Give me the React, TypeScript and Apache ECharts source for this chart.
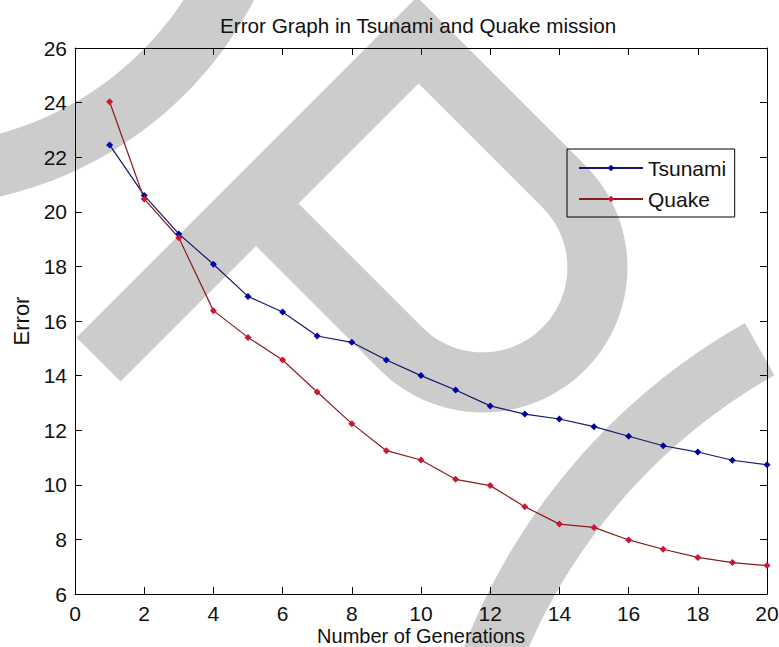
import { useEffect, useRef } from "react";
import * as echarts from "echarts";

// ---- data ----
const generations = [1, 2, 3, 4, 5, 6, 7, 8, 9, 10, 11, 12, 13, 14, 15, 16, 17, 18, 19, 20];
const tsunami = [22.45, 20.6, 19.19, 18.08, 16.9, 16.33, 15.45, 15.22, 14.57, 14.0, 13.47, 12.89, 12.59, 12.41, 12.13, 11.78, 11.43, 11.2, 10.9, 10.73];
const quake = [24.03, 20.47, 19.05, 16.38, 15.4, 14.57, 13.4, 12.24, 11.25, 10.91, 10.2, 9.97, 9.2, 8.56, 8.44, 7.98, 7.64, 7.34, 7.15, 7.04];
const seriesNames = ["Tsunami", "Quake"];
const titleText = "Error Graph in Tsunami and Quake mission";
const xName = "Number of Generations";
const yName = "Error";

const FONT = "'Liberation Sans', Arial, Helvetica, sans-serif";
const WM = "#cccccc";

// ---- watermark geometry helpers (decoration only) ----
function arcPoints(cx: number, cy: number, r: number, a0: number, a1: number, n = 60) {
  const pts: number[][] = [];
  for (let i = 0; i <= n; i++) {
    const a = ((a0 + ((a1 - a0) * i) / n) * Math.PI) / 180;
    pts.push([cx + r * Math.cos(a), cy + r * Math.sin(a)]);
  }
  return pts;
}
function ringSegment(cx: number, cy: number, r0: number, r1: number, a0: number, a1: number) {
  return [...arcPoints(cx, cy, r1, a0, a1), ...arcPoints(cx, cy, r0, a1, a0)];
}
const uv = (u: number, v: number) => [(u + v) / 2, (u - v) / 2];

function watermark() {
  const dcx = 482.5;
  const dcy = 267.5;
  const dOuter = [
    uv(414, -261),
    uv(414, 420),
    ...arcPoints(dcx, dcy, 144.96, -45, 135),
    uv(502, 10),
    uv(502, -261),
  ];
  const dHole = [uv(502, 95), uv(502, 335), ...arcPoints(dcx, dcy, 84.85, -45, 135)];
  const base = { silent: true };
  return [
    { type: "polygon", ...base, z: -10, shape: { points: ringSegment(-85, -176, 321, 382, 0, 90) }, style: { fill: WM } },
    { type: "polygon", ...base, z: -10, shape: { points: dOuter }, style: { fill: WM } },
    { type: "polygon", ...base, z: -9, shape: { points: dHole }, style: { fill: "#ffffff" } },
    { type: "polygon", ...base, z: -10, shape: { points: ringSegment(1060, 880, 580, 640, 195, 240.5) }, style: { fill: WM } },
  ];
}

export default function App() {
  const ref = useRef<HTMLDivElement>(null);
  useEffect(() => {
    if (!ref.current) return;
    const chart = echarts.init(ref.current, undefined, { renderer: "svg" });
    const axisCommon = {
      type: "value" as const,
      splitLine: { show: false },
      axisLine: { show: true, onZero: false, lineStyle: { color: "#000", width: 1 } },
      axisTick: { show: true, inside: true, length: 7, lineStyle: { color: "#000", width: 1 } },
    };
    chart.setOption({
      animation: false,
      backgroundColor: "#ffffff",
      textStyle: { fontFamily: FONT },
      graphic: { elements: watermark() },
      title: {
        text: titleText,
        left: 220,
        top: 15,
        padding: 0,
        textStyle: { fontFamily: FONT, fontSize: 20.7, fontWeight: "normal", color: "#111" },
      },
      grid: { left: 75, right: 12, top: 48, bottom: 53, containLabel: false, outerBoundsMode: "none" },
      legend: {
        data: seriesNames,
        orient: "vertical",
        left: 567,
        top: 149,
        padding: [8.5, 8.5, 7.5, 11],
        itemGap: 10,
        itemWidth: 64,
        itemHeight: 8,
        borderColor: "#000",
        borderWidth: 1,
        backgroundColor: "transparent",
        textStyle: { fontFamily: FONT, fontSize: 21, color: "#111" },
      },
      xAxis: [
        {
          ...axisCommon,
          position: "bottom",
          min: 0,
          max: 20,
          interval: 2,
          name: xName,
          nameLocation: "middle",
          nameGap: 32,
          nameMoveOverlap: false,
          nameTextStyle: { fontFamily: FONT, fontSize: 20, lineHeight: 20, color: "#111" },
          axisLabel: { margin: 9, fontFamily: FONT, fontSize: 21, color: "#111" },
        },
        {
          ...axisCommon,
          position: "top",
          min: 0,
          max: 20,
          interval: 2,
          axisLabel: { show: false },
        },
      ],
      yAxis: [
        {
          ...axisCommon,
          position: "left",
          min: 6,
          max: 26,
          interval: 2,
          name: yName,
          nameLocation: "middle",
          nameGap: 42,
          nameTextStyle: { fontFamily: FONT, fontSize: 22, color: "#111" },
          axisLabel: { margin: 8, fontFamily: FONT, fontSize: 21, color: "#111" },
        },
        {
          ...axisCommon,
          position: "right",
          min: 6,
          max: 26,
          interval: 2,
          axisLabel: { show: false },
        },
      ],
      series: [
        {
          name: seriesNames[0],
          type: "line",
          xAxisIndex: 0,
          yAxisIndex: 0,
          data: generations.map((g, i) => [g, tsunami[i]]),
          symbol: "diamond",
          symbolSize: 7,
          showAllSymbol: true,
          itemStyle: { color: "#0000aa" },
          lineStyle: { color: "#16166e", width: 1.2 },
        },
        {
          name: seriesNames[1],
          type: "line",
          xAxisIndex: 0,
          yAxisIndex: 0,
          data: generations.map((g, i) => [g, quake[i]]),
          symbol: "diamond",
          symbolSize: 7,
          showAllSymbol: true,
          itemStyle: { color: "#d01432" },
          lineStyle: { color: "#8a1c1c", width: 1.2 },
        },
      ],
    });
    return () => chart.dispose();
  }, []);
  return <div ref={ref} style={{ position: "fixed", left: 0, top: 0, width: 779, height: 647 }} />;
}
